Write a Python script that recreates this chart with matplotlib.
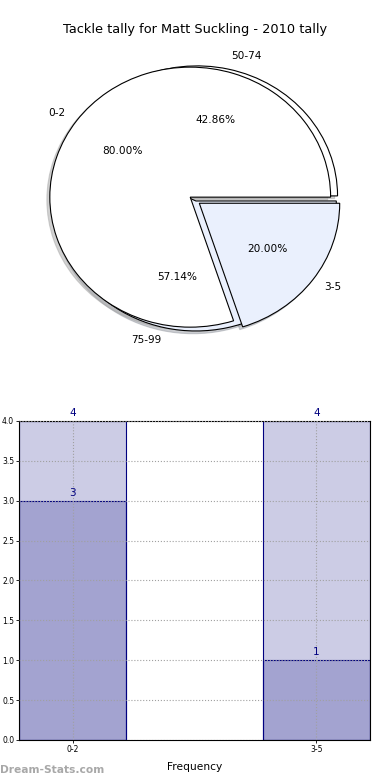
import matplotlib
matplotlib.use('Agg')
import matplotlib.pyplot as plt
import numpy as np

# pie data: two pies drawn on top of each other
pie1_labels = ['0-2', '3-5']
pie1_values = [4, 1]
pie2_labels = ['50-74', '75-99']
pie2_values = [3, 4]

# bar data
categories = ['0-2', '3-5']
totals = [4, 4]
counts = [3, 1]

title = 'Tackle tally for Matt Suckling - 2010 tally'

fig = plt.figure(figsize=(3.9, 7.8), dpi=100)

# ---- pie ----
ax1 = fig.add_axes([0.0523, 0.534, 0.90, 0.4167])
pie_colors = ['white', '#EAF0FD']
shadow = {'ox': -0.015, 'oy': -0.015, 'shade': 0.35}
ax1.pie(pie2_values, labels=pie2_labels, colors=pie_colors, explode=[0.04, 0],
        autopct='%.2f%%', shadow=shadow, startangle=0,
        wedgeprops={'edgecolor': 'black', 'linewidth': 0.8},
        textprops={'fontsize': 7.6})
ax1.pie(pie1_values, labels=pie1_labels, colors=pie_colors, explode=[0.05, 0.03],
        autopct='%.2f%%', shadow=shadow, startangle=0,
        wedgeprops={'edgecolor': 'black', 'linewidth': 0.8},
        textprops={'fontsize': 7.6})
ax1.set_aspect('auto')
ax1.set_xlim(-1.25, 1.25)
ax1.set_ylim(-1.25, 1.25)
fig.text(0.5, 1 - 30 / 780, title, ha='center', va='center', fontsize=9.3)

# ---- bars ----
ax2 = fig.add_axes([0.0487, 0.0513, 0.9, 0.409])
w = 0.44
x = np.arange(len(categories))
face = (0, 0, 0.5, 0.2)
b1 = ax2.bar(x, totals, w, facecolor=face, edgecolor='navy', linewidth=0.8, zorder=2)
b2 = ax2.bar(x, counts, w, facecolor=face, edgecolor='navy', linewidth=0.8, zorder=2)
for bars, vals in ((b1, totals), (b2, counts)):
    for r, v in zip(bars, vals):
        ax2.text(r.get_x() + r.get_width() / 2, v + 0.04, str(v), ha='center', va='bottom',
                 color='navy', fontsize=7.5)
ax2.set_xlim(-w / 2, len(categories) - 1 + w / 2)
ax2.set_ylim(0, 4)
ax2.set_yticks(np.arange(0, 4.01, 0.5))
ax2.set_xticks(x)
ax2.set_xticklabels(categories)
ax2.tick_params(labelsize=5.5, length=2, width=0.6, pad=1.5)
ax2.grid(True, linestyle=':', color='#A0A0A0', linewidth=0.8, zorder=3)
ax2.set_axisbelow(False)
ax2.set_xlabel('Frequency', fontsize=7.7, labelpad=6)

fig.text(0.0, 1 - 770 / 780, 'Dream-Stats.com', ha='left', va='center', fontsize=7.7,
         color='#A8A8A8', fontweight='bold')

fig.savefig('out.png', dpi=100)
